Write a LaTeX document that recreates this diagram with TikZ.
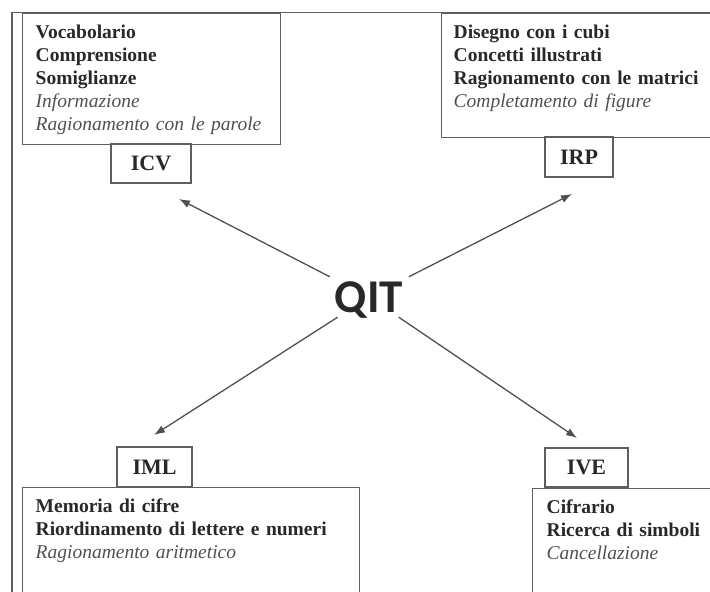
\documentclass[tikz,border=0pt]{standalone}
\usepackage{fontspec}
\setmainfont{Liberation Serif}
\newfontfamily\qitfont{Carlito}
\usepackage{tikz}
\usetikzlibrary{arrows.meta,positioning}
\tikzset{>={Latex[length=11pt,width=8pt]}}
\definecolor{inkdark}{RGB}{40,40,40}
\definecolor{inkgray}{RGB}{80,80,80}
\definecolor{rulegray}{RGB}{95,95,95}
\tikzset{
  bigbox/.style={draw=rulegray, line width=1.4pt, anchor=north west, align=left, inner ysep=0pt,
    text height=25pt, text=inkdark, font=\fontsize{19.5pt}{23pt}\selectfont},
  tagbox/.style={draw=rulegray, line width=1.4pt, minimum height=39pt, inner sep=0pt, text=inkdark,
    font=\fontsize{22pt}{26pt}\selectfont\bfseries},
  link/.style={->, draw=inkgray, line width=1.3pt}
}
\newcommand{\soft}[1]{{\itshape\color{inkgray}#1}}

\begin{document}
\begin{tikzpicture}[x=1pt, y=-1pt]
    \useasboundingbox (0,0) rectangle (710,592);
    \clip (0,0) rectangle (710,592);
    % outer frame
    \draw [rulegray, line width=1.4pt] (12,600) -- (12,12.5) -- (720,12.5);
    % subtest boxes
    \node [bigbox, inner xsep=13pt, text width=232pt, text depth=106pt] (icvbox) at (22,13)
      {\textbf{Vocabolario}\\ \textbf{Comprensione}\\ \textbf{Somiglianze}\\ \soft{Informazione}\\ \soft{Ragionamento con le parole}};
    \node [bigbox, inner xsep=12pt, text width=276pt, text depth=99pt] (irpbox) at (441,13)
      {\textbf{Disegno con i cubi}\\ \textbf{Concetti illustrati}\\ \textbf{Ragionamento con le matrici}\\ \soft{Completamento di figure}};
    \node [bigbox, inner xsep=13pt, text width=311pt, text depth=100pt] (imlbox) at (22,487)
      {\textbf{Memoria di cifre}\\ \textbf{Riordinamento di lettere e numeri}\\ \soft{Ragionamento aritmetico}};
    \node [bigbox, inner xsep=14pt, text width=200pt, text depth=100pt] (ivebox) at (532,488)
      {\textbf{Cifrario}\\ \textbf{Ricerca di simboli}\\ \soft{Cancellazione}};
    % index labels
    \node [tagbox, minimum width=80pt] (icv) at (151,163.5) {ICV};
    \node [tagbox, minimum width=68pt, minimum height=40pt] (irp) at (579,157) {IRP};
    \node [tagbox, minimum width=75pt, minimum height=40pt] (iml) at (154.5,467) {IML};
    \node [tagbox, minimum width=83pt] (ive) at (586.5,467.5) {IVE};
    % centre
    \node [text=inkdark, font=\qitfont\bfseries\fontsize{47pt}{47pt}\selectfont, text height=30pt, text depth=0pt,
      minimum width=82pt, minimum height=40pt, inner sep=0pt] (qit) at (369,297) {QIT};
    \coordinate (icvend) at (179,199);
    \coordinate (irpend) at (572,194);
    \coordinate (imlend) at (154,435);
    \coordinate (iveend) at (577,438);
    \draw [link] (qit) -- (icvend);
    \draw [link] (qit) -- (irpend);
    \draw [link] (qit) -- (imlend);
    \draw [link] (qit) -- (iveend);
\end{tikzpicture}
\end{document}
